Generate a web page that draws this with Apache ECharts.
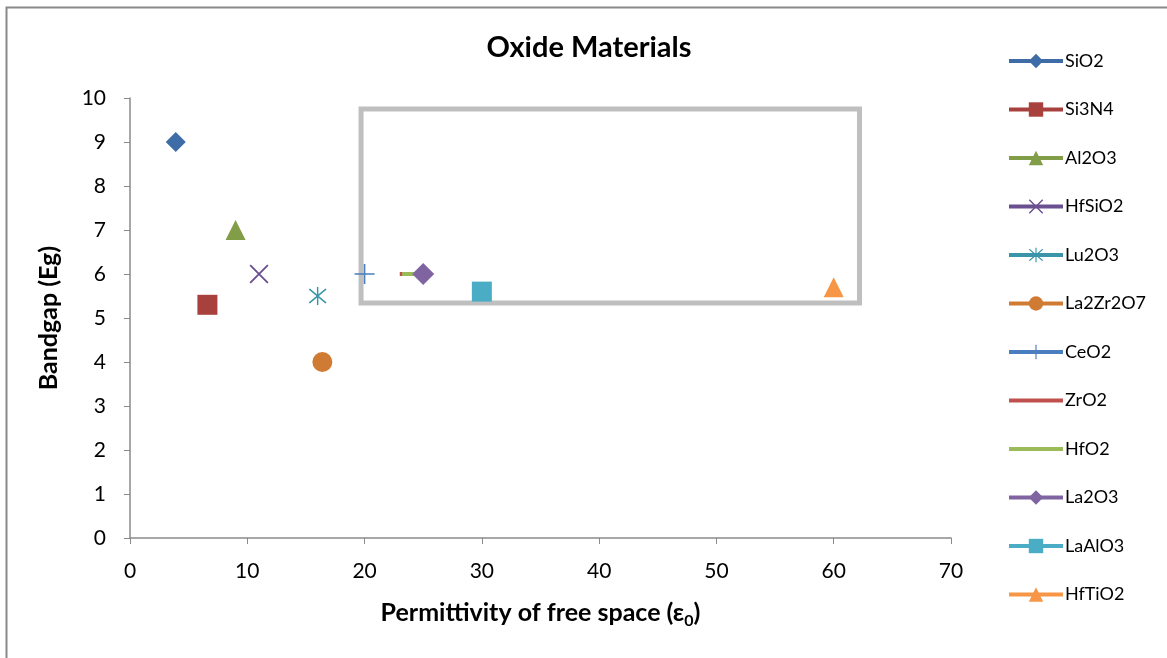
<!DOCTYPE html>
<html>
<head>
<meta charset="utf-8">
<script src="https://cdn.jsdelivr.net/npm/echarts@6/dist/echarts.min.js"></script>
<style>
  html, body { margin: 0; padding: 0; background: #fff; }
  #chart { width: 1167px; height: 658px; }
</style>
</head>
<body>
<div id="chart"></div>
<script>
// data: [permittivity, bandgap]
var SiO2 = [[3.9, 9]]
var Si3N4 = [[6.6, 5.3]]
var Al2O3 = [[9, 7]]
var HfSiO2 = [[11, 6]]
var Lu2O3 = [[16, 5.5]]
var La2Zr2O7 = [[16.4, 4]]
var CeO2 = [[20, 6]]
var ZrO2 = [[23, 6], [25, 6]]
var HfO2 = [[23.2, 6], [25, 6]]
var La2O3 = [[25, 6]]
var LaAlO3 = [[30, 5.6]]
var HfTiO2 = [[60, 5.7]]

// highlight box drawn on the plot (data units)
var boxX = [19.7, 62.2]
var boxY = [5.34, 9.75]

var xTicks = [0, 70, 10]
var yTicks = [0, 10, 1]

var legendNames = ['SiO2', 'Si3N4', 'Al2O3', 'HfSiO2', 'Lu2O3', 'La2Zr2O7', 'CeO2', 'ZrO2', 'HfO2', 'La2O3', 'LaAlO3', 'HfTiO2']
var lineOnly = ['ZrO2', 'HfO2']

var FONT = 'Lato, "Open Sans", sans-serif'

var symX = 'path://M0,1.4L1.4,0L20,18.6L18.6,20Z M18.6,0L20,1.4L1.4,20L0,18.6Z'
var symPlus = 'path://M9.2,0H10.8V20H9.2Z M0,9.2H20V10.8H0Z'
var symStar = 'path://M0,1.4L1.4,0L20,18.6L18.6,20Z M18.6,0L20,1.4L1.4,20L0,18.6Z M9.2,-2H10.8V22H9.2Z'

function pointSeries (name, data, color, symbol, size) {
  return {
    name: name,
    type: 'line',
    data: data,
    symbol: symbol,
    symbolSize: size,
    itemStyle: { color: color },
    lineStyle: { color: color, width: 4 },
    z: 5
  }
}

function lineSeries (name, data, color) {
  return {
    name: name,
    type: 'line',
    data: data,
    symbol: 'none',
    itemStyle: { color: color },
    lineStyle: { color: color, width: 4, cap: 'butt' },
    z: 4
  }
}

var chart = echarts.init(document.getElementById('chart'))

chart.setOption({
  backgroundColor: '#fff',
  animation: false,
  textStyle: { fontFamily: FONT },
  title: {
    text: 'Oxide Materials',
    left: 584,
    textAlign: 'center',
    top: 28,
    textStyle: { fontFamily: FONT, fontSize: 29, fontWeight: 'bold', color: '#000' }
  },
  graphic: [
    {
      type: 'rect',
      left: 4,
      top: 5,
      shape: { width: 1200, height: 700 },
      style: { fill: 'none', stroke: '#898989', lineWidth: 2 },
      silent: true
    }
  ],
  legend: {
    orient: 'vertical',
    left: 1007,
    top: 52,
    padding: 0,
    itemWidth: 54,
    itemHeight: 18,
    itemGap: 30.5,
    lineStyle: { width: 4 },
    textStyle: { fontFamily: FONT, fontSize: 18, color: '#000', padding: [0, 0, 0, -3] },
    data: legendNames.map(function (n) {
      return lineOnly.indexOf(n) > -1 ? { name: n, itemStyle: { opacity: 0 } } : n
    })
  },
  grid: {
    left: 130,
    right: 216,
    top: 98,
    bottom: 120
  },
  xAxis: {
    type: 'value',
    min: xTicks[0],
    max: xTicks[1],
    interval: xTicks[2],
    name: 'Permittivity of free space (ε{sub|0})',
    nameLocation: 'middle',
    nameGap: 58,
    nameTextStyle: {
      fontFamily: FONT,
      fontSize: 25,
      fontWeight: 'bold',
      color: '#000',
      rich: {
        sub: { fontFamily: FONT, fontSize: 16, fontWeight: 'bold', verticalAlign: 'bottom', padding: [17, 0, 0, 0] }
      }
    },
    splitLine: { show: false },
    axisLine: { lineStyle: { color: '#8a8a8a', width: 1.5 } },
    axisTick: { show: true, length: 6, lineStyle: { color: '#8a8a8a' } },
    axisLabel: { fontFamily: FONT, fontSize: 21, color: '#000', margin: 23 }
  },
  yAxis: {
    type: 'value',
    min: yTicks[0],
    max: yTicks[1],
    interval: yTicks[2],
    name: 'Bandgap (Eg)',
    nameLocation: 'middle',
    nameGap: 69,
    nameRotate: 90,
    nameTextStyle: { fontFamily: FONT, fontSize: 25, fontWeight: 'bold', color: '#000' },
    splitLine: { show: false },
    axisLine: { show: true, lineStyle: { color: '#8a8a8a', width: 1.5 } },
    axisTick: { show: true, length: 6, lineStyle: { color: '#8a8a8a' } },
    axisLabel: { fontFamily: FONT, fontSize: 21, color: '#000', margin: 24 }
  },
  series: [
    {
      name: 'box',
      type: 'scatter',
      data: [],
      silent: true,
      z: 1,
      markArea: {
        silent: true,
        itemStyle: { color: 'rgba(0,0,0,0)', borderColor: '#bfbfbf', borderWidth: 5 },
        data: [[{ coord: [boxX[0], boxY[1]] }, { coord: [boxX[1], boxY[0]] }]]
      }
    },
    pointSeries('SiO2', SiO2, '#3d6ca6', 'diamond', 20),
    pointSeries('Si3N4', Si3N4, '#a8403d', 'rect', 20),
    pointSeries('Al2O3', Al2O3, '#819d48', 'triangle', 20),
    pointSeries('HfSiO2', HfSiO2, '#6a4f91', symX, 19),
    pointSeries('Lu2O3', Lu2O3, '#3a95a9', symStar, 18),
    pointSeries('La2Zr2O7', La2Zr2O7, '#d07b33', 'circle', 20),
    pointSeries('CeO2', CeO2, '#4a7ec1', symPlus, 20),
    lineSeries('ZrO2', ZrO2, '#c0504d'),
    lineSeries('HfO2', HfO2, '#9bbb59'),
    pointSeries('La2O3', La2O3, '#8064a2', 'diamond', 22),
    pointSeries('LaAlO3', LaAlO3, '#4bacc6', 'rect', 20),
    pointSeries('HfTiO2', HfTiO2, '#f79646', 'triangle', 20)
  ]
})
</script>
</body>
</html>
